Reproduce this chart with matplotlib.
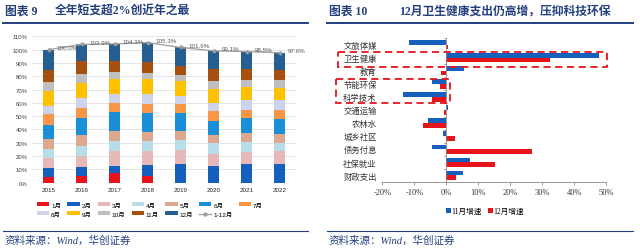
import matplotlib
matplotlib.use('Agg')
import matplotlib.pyplot as plt
import matplotlib.patches as mpatches
from matplotlib.lines import Line2D
import numpy as np

plt.rcParams['font.family'] = ['Liberation Sans', 'Noto Sans CJK SC']

# ---- left chart data: monthly spending progress (% of full-year budget) ----
years = ['2015', '2016', '2017', '2018', '2019', '2020', '2021', '2022']
months = ['1月', '2月', '3月', '4月', '5月', '6月', '7月', '8月', '9月', '10月', '11月', '12月']
m01 = [4.5, 5.3, 7.0, 5.3, 0.0, 0.0, 0.0, 0.0]
m02 = [6.3, 6.3, 5.8, 8.3, 14.0, 12.8, 14.1, 14.1]
m03 = [7.8, 8.8, 10.8, 10.5, 10.6, 8.8, 9.3, 9.5]
m04 = [6.8, 7.5, 7.6, 7.1, 7.6, 8.0, 7.0, 6.6]
m05 = [7.5, 8.0, 7.5, 7.2, 7.0, 6.3, 6.8, 6.5]
m06 = [10.8, 12.8, 14.1, 14.1, 13.3, 10.8, 11.3, 11.3]
m07 = [7.6, 7.6, 7.0, 7.0, 6.3, 6.8, 6.5, 6.8]
m08 = [6.7, 7.5, 7.0, 6.8, 6.0, 6.5, 6.8, 7.0]
m09 = [10.8, 11.3, 11.1, 11.3, 11.3, 10.6, 10.1, 9.6]
m10 = [6.8, 6.3, 5.3, 5.1, 4.6, 5.8, 5.5, 5.5]
m11 = [9.3, 10.1, 8.3, 8.0, 6.7, 8.8, 8.3, 7.5]
m12 = [15.1, 12.4, 12.8, 14.6, 14.2, 13.9, 12.8, 13.2]
full_year = [100.0, 103.9, 104.3, 105.3, 101.6, 99.1, 98.5, 97.6]
month_colors = ['#e8141b', '#1560bd', '#e6b8b7', '#b7dee8', '#dda88e', '#1a8fd8',
                '#f79646', '#ccd3ea', '#ffc000', '#bfbfbf', '#a5500f', '#255e91']

# ---- right chart data: growth by category ----
categories = ['文旅体媒', '卫生健康', '教育', '节能环保', '科学技术', '交通运输',
              '农林水', '城乡社区', '债务付息', '社保就业', '财政支出']
nov_growth = [-11.8, 47.7, 5.7, -4.4, -13.6, 0.5, -5.7, -0.9, -4.3, 7.3, 5.1]
dec_growth = [0.5, 32.6, -1.6, -1.9, -4.4, -0.8, -7.4, 2.8, 26.8, 15.3, 3.1]

navy = '#233f7e'
blue = '#1560bd'
red = '#e8141b'

fig = plt.figure(figsize=(6.4, 2.51), dpi=100)


def px(x0, y0, x1, y1):
    return [x0 / 640, 1 - y1 / 251, (x1 - x0) / 640, (y1 - y0) / 251]


# titles, rules and source lines
for x0, x1, num, title, tx in [(3, 308, '图表 9', '全年短支超2%创近年之最', 55),
                               (327, 633, '图表 10', '12月卫生健康支出仍高增，压抑科技环保', 399)]:
    fig.text((x0 + 2) / 640, 1 - 12 / 251, num, color=navy, fontsize=8.5, fontweight='bold',
             va='center', family=['Liberation Serif', 'Noto Sans CJK SC'])
    fig.text(tx / 640, 1 - 12 / 251, title, color=navy,
             fontsize=8.5, fontweight='bold', va='center',
             family=['Liberation Serif', 'Noto Sans CJK SC'])
    fig.add_artist(Line2D([x0 / 640, x1 / 640], [1 - 24 / 251] * 2, color=navy, lw=1.4))
    fig.add_artist(Line2D([x0 / 640, x1 / 640], [1 - 232 / 251] * 2, color=navy, lw=0.8))
    fig.text((x0 + 2) / 640, 1 - 241 / 251, '资料来源：Wind，华创证券', color=navy, fontsize=7.6,
             style='italic', va='center', family=['Liberation Serif', 'Noto Sans CJK SC'])

# ---- left chart ----
ax1 = fig.add_axes(px(32, 37.3, 296, 183.7))
data = np.array([m01, m02, m03, m04, m05, m06, m07, m08, m09, m10, m11, m12])
x = np.arange(len(years))
bottom = np.zeros(len(years))
handles = []
for i, row in enumerate(data):
    b = ax1.bar(x, row, bottom=bottom, width=0.34, color=month_colors[i], label=months[i], zorder=2)
    handles.append(b)
    bottom += row
ln, = ax1.plot(x, full_year, color='#a5a5a5', lw=1, marker='o', ms=2.5,
               mfc='#a5a5a5', mec='#7f7f7f', mew=0.4, zorder=3, label='1-12月')
for xi, v in zip(x, full_year):
    ax1.annotate(f'{v:.1f}%', (xi, v), xytext=(6, 1.5), textcoords='offset points',
                 fontsize=4.5, color='#595959', ha='left', va='center')
ax1.set_xlim(-0.5, len(years) - 0.5)
ax1.set_ylim(0, 110)
ax1.set_yticks(np.arange(0, 111, 10))
ax1.set_yticklabels([f'{v}%' for v in range(0, 111, 10)], fontsize=4.3, color='#404040')
ax1.set_xticks(x)
ax1.set_xticklabels(years, fontsize=4.5, color='#262626')
ax1.tick_params(length=0, pad=3)
ax1.grid(axis='y', color='#d9d9d9', lw=0.5, zorder=0)
for s in ax1.spines.values():
    s.set_visible(False)

order = [0, 7, 1, 8, 2, 9, 3, 10, 4, 11, 5, 12, 6]
all_h = handles + [ln]
all_l = months + ['1-12月']
fig.legend([all_h[i] for i in order], [all_l[i] for i in order], ncol=7,
           loc='center', bbox_to_anchor=(150 / 640, 1 - 210.5 / 251), frameon=False,
           fontsize=4.6, handlelength=1.9, handleheight=0.6, handletextpad=0.3,
           columnspacing=1.0, labelspacing=0.6, borderpad=0)

# ---- right chart ----
ax2 = fig.add_axes(px(382.3, 39, 606, 183))
y = np.arange(len(categories))
h = 0.36
ax2.barh(y - h / 2, nov_growth, height=h, color=blue, label='11月增速', zorder=2)
ax2.barh(y + h / 2, dec_growth, height=h, color=red, label='12月增速', zorder=2)
ax2.set_ylim(len(categories) - 0.5, -0.5)
ax2.set_xlim(-20, 50)
ax2.set_xticks(np.arange(-20, 51, 10))
ax2.set_xticklabels([f'{v}%' for v in range(-20, 51, 10)], fontsize=6,
                    family=['Liberation Serif'], color='#333333')
ax2.set_yticks(y)
ax2.set_yticklabels(categories, fontsize=6, color='#333333')
ax2.tick_params(axis='y', length=0, pad=4)
ax2.tick_params(axis='x', length=2.5, width=0.6, color='#888888', pad=2)
for s in ['top', 'right', 'left']:
    ax2.spines[s].set_visible(False)
ax2.spines['bottom'].set_color('#888888')
ax2.spines['bottom'].set_linewidth(0.6)
ax2.axvline(0, color='#888888', lw=0.6, zorder=3)
for yy in np.arange(-0.5, len(categories), 1):
    ax2.plot([0, -0.8], [yy, yy], color='#888888', lw=0.5, clip_on=False, zorder=3)

# dashed highlight boxes (data units: growth %, category index)
for (xa, xb, ya, yb) in [(-34, 50.3, 0.58, 1.72), (-34.4, 1.2, 2.64, 4.48)]:
    ax2.add_patch(mpatches.Rectangle((xa, ya), xb - xa, yb - ya, fill=False, ec=red,
                                     lw=1.3, ls=(0, (4, 2.5)), clip_on=False, zorder=4))

fig.legend(*ax2.get_legend_handles_labels(), ncol=2, loc='center',
           bbox_to_anchor=(485 / 640, 1 - 212 / 251), frameon=False,
           prop={'family': ['Liberation Serif', 'Noto Sans CJK SC'], 'size': 5.5},
           handlelength=0.6, handleheight=0.6, handletextpad=0.1, columnspacing=0.8,
           borderpad=0)

fig.savefig('out.png', dpi=100)
